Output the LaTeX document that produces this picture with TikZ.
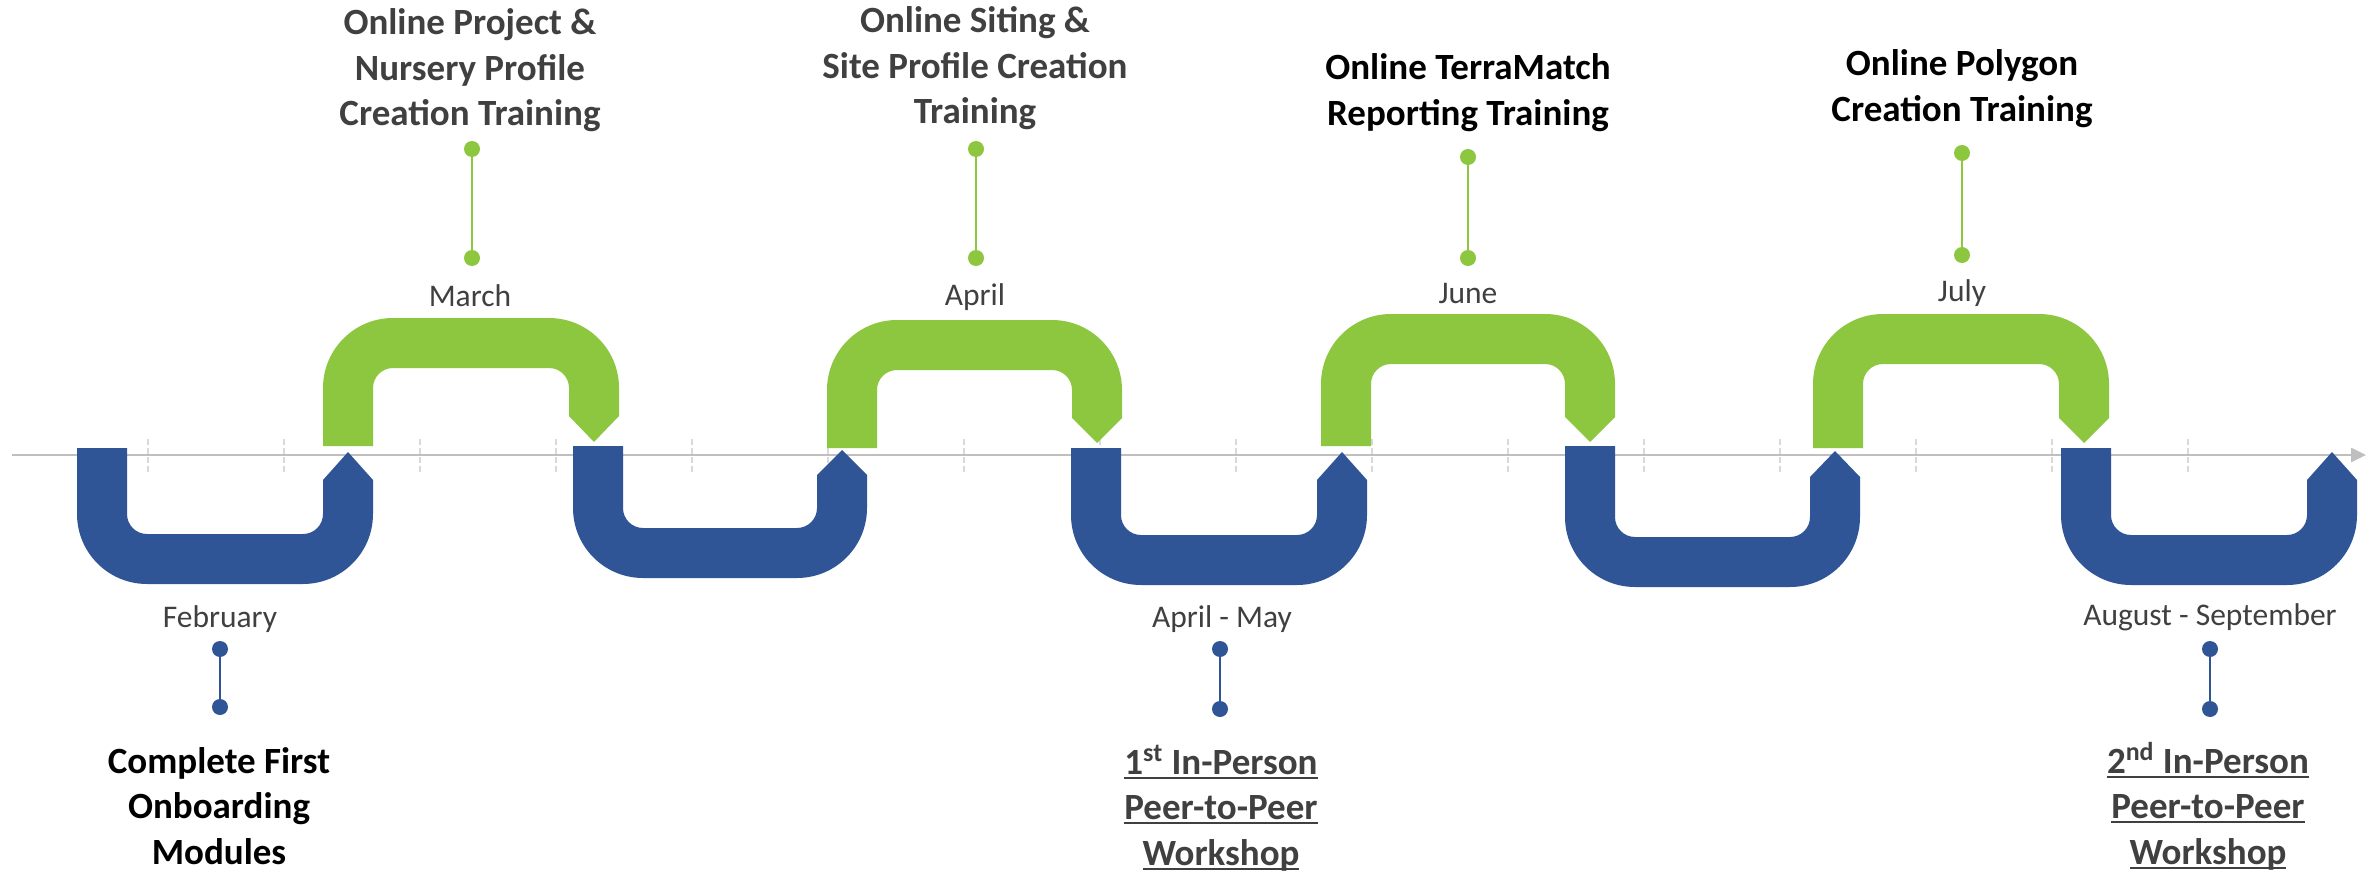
\documentclass[tikz,border=0pt]{standalone}
\usepackage{fontspec}
\setmainfont{Carlito}
\usetikzlibrary{arrows.meta}
\definecolor{tlgreen}{HTML}{8DC63F}
\definecolor{tlblue}{HTML}{2F5597}
\definecolor{tlgray}{HTML}{404040}
\definecolor{axisgray}{HTML}{BFBFBF}
\definecolor{tickgray}{HTML}{D9D9D9}

\newcommand{\ulx}[1]{\setbox0=\hbox{#1}\rlap{\rule[-2.4pt]{\wd0}{1pt}}\box0}

% #1 colour, #2 sign (1 = hangs below, -1 = arches above), #3 left x, #4 right x,
% #5 y of open (left) arm end, #6 y of far outer edge, #7 arrow base y, #8 arrow tip y
\newcommand{\uturnshape}[8]{%
  \pgfmathsetmacro\yi{#6-(#2)*70}%
  \pgfmathsetmacro\yc{#6-(#2)*58.95}%
  \pgfmathsetmacro\yn{#6-(#2)*50}%
  \pgfmathsetmacro\yo{#6-(#2)*31.34}%
  \pgfmathsetmacro\xa{#3+50}%
  \pgfmathsetmacro\xb{#3+58.95}%
  \pgfmathsetmacro\xc{#3+70}%
  \pgfmathsetmacro\xk{#3+31.34}%
  \pgfmathsetmacro\xd{#4-70}%
  \pgfmathsetmacro\xe{#4-58.95}%
  \pgfmathsetmacro\xf{#4-50}%
  \pgfmathsetmacro\xg{#4-25}%
  \pgfmathsetmacro\xh{#4-31.34}%
  \fill[#1] (#3,#5) -- (\xa,#5) -- (\xa,\yi)
    .. controls (\xa,\yc) and (\xb,\yn) .. (\xc,\yn) -- (\xd,\yn)
    .. controls (\xe,\yn) and (\xf,\yc) .. (\xf,\yi) -- (\xf,#7) -- (\xg,#8) -- (#4,#7) -- (#4,\yi)
    .. controls (#4,\yo) and (\xh,#6) .. (\xd,#6) -- (\xc,#6)
    .. controls (\xk,#6) and (#3,\yo) .. (#3,\yi) -- cycle;%
}

\begin{document}
\begin{tikzpicture}[x=0.5pt,y=-0.5pt,
  ttitle/.style={font=\fontsize{18.5}{22.75}\selectfont\bfseries, inner sep=0pt, anchor=base},
  mlabel/.style={font=\fontsize{15.75}{19}\selectfont, text=tlgray, inner sep=0pt, anchor=base},
  gdot/.style={circle, fill=tlgreen, inner sep=0pt, minimum size=8pt},
  bdot/.style={circle, fill=tlblue, inner sep=0pt, minimum size=8pt},
  gline/.style={draw=tlgreen, line width=1.1pt},
  bline/.style={draw=tlblue, line width=1.1pt},
  axtick/.style={draw=tickgray, line width=0.75pt, dash pattern=on 3pt off 1.5pt},
  timeaxis/.style={draw=axisgray, line width=1.25pt, -{Triangle[length=7.5pt,width=7pt]}}
]
\fill[white] (0,0) rectangle (2379,872);
\useasboundingbox (0,0) rectangle (2379,872);

% ticks and axis
\foreach \k in {0,...,15} \draw[axtick] ({148+136*\k},439) -- ({148+136*\k},473);
\coordinate (axs) at (12,455);
\coordinate (axe) at (2366,455);
\draw[timeaxis] (axs) -- (axe);

% U-turn shapes
\uturnshape{tlblue}{1}{77}{373}{448}{584}{480}{452}
\uturnshape{tlgreen}{-1}{323}{619}{446}{318}{416}{442}
\uturnshape{tlblue}{1}{573}{867}{446}{578}{475}{450}
\uturnshape{tlgreen}{-1}{827}{1122}{448}{320}{418}{443}
\uturnshape{tlblue}{1}{1071}{1367}{448}{585}{480}{452}
\uturnshape{tlgreen}{-1}{1321}{1615}{446}{314}{417}{442}
\uturnshape{tlblue}{1}{1565}{1860}{446}{587}{477}{451}
\uturnshape{tlgreen}{-1}{1813}{2109}{448}{314}{418}{443}
\uturnshape{tlblue}{1}{2061}{2357}{448}{585}{480}{452}

% March
\node[ttitle, text=tlgray] (ta1) at (470,35) {\begin{tabular}[t]{@{}c@{}}Online Project \&\\Nursery Profile\\Creation Training\end{tabular}};
\node[gdot] (ga1) at (472,149) {};
\node[gdot] (gb1) at (472,258) {};
\draw[gline] (ga1) -- (gb1);
\node[mlabel] (ma1) at (470,306) {March};

% April
\node[ttitle, text=tlgray] (ta2) at (975,33) {\begin{tabular}[t]{@{}c@{}}Online Siting \&\\Site Profile Creation\\Training\end{tabular}};
\node[gdot] (ga2) at (976,149) {};
\node[gdot] (gb2) at (976,258) {};
\draw[gline] (ga2) -- (gb2);
\node[mlabel] (ma2) at (975,305) {April};

% June
\node[ttitle, text=black] (ta3) at (1468,80) {\begin{tabular}[t]{@{}c@{}}Online TerraMatch\\Reporting Training\end{tabular}};
\node[gdot] (ga3) at (1468,157) {};
\node[gdot] (gb3) at (1468,258) {};
\draw[gline] (ga3) -- (gb3);
\node[mlabel] (ma3) at (1468,303) {June};

% July
\node[ttitle, text=black] (ta4) at (1962,76) {\begin{tabular}[t]{@{}c@{}}Online Polygon\\Creation Training\end{tabular}};
\node[gdot] (ga4) at (1962,153) {};
\node[gdot] (gb4) at (1962,255) {};
\draw[gline] (ga4) -- (gb4);
\node[mlabel] (ma4) at (1962,301) {July};

% February
\node[mlabel] (mb1) at (220,627) {February};
\node[bdot] (ba1) at (220,649) {};
\node[bdot] (bb1) at (220,707) {};
\draw[bline] (ba1) -- (bb1);
\node[ttitle, text=black] (tb1) at (219,773) {\begin{tabular}[t]{@{}c@{}}Complete First\\Onboarding\\Modules\end{tabular}};

% April - May
\node[mlabel] (mb2) at (1222,627) {April - May};
\node[bdot] (ba2) at (1220,649) {};
\node[bdot] (bb2) at (1220,709) {};
\draw[bline] (ba2) -- (bb2);
\node[ttitle, text=tlgray] (tb2) at (1221,774) {\begin{tabular}[t]{@{}c@{}}\ulx{1\textsuperscript{st} In-Person}\\\ulx{Peer-to-Peer}\\\ulx{Workshop}\end{tabular}};

% August - September
\node[mlabel] (mb3) at (2210,625) {August - September};
\node[bdot] (ba3) at (2210,649) {};
\node[bdot] (bb3) at (2210,709) {};
\draw[bline] (ba3) -- (bb3);
\node[ttitle, text=tlgray] (tb3) at (2208,773) {\begin{tabular}[t]{@{}c@{}}\ulx{2\textsuperscript{nd} In-Person}\\\ulx{Peer-to-Peer}\\\ulx{Workshop}\end{tabular}};
\end{tikzpicture}
\end{document}
